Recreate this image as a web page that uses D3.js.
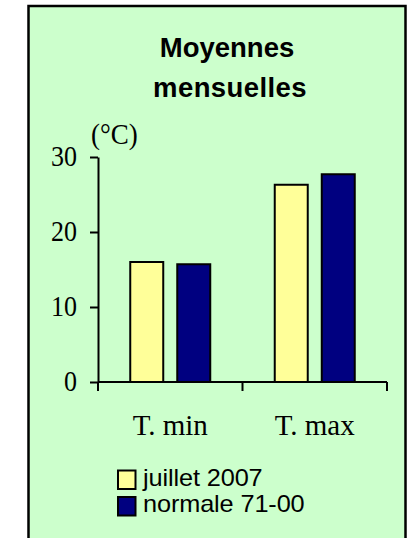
<!DOCTYPE html>
<html><head><meta charset="utf-8">
<script src="https://cdn.jsdelivr.net/npm/d3@7"></script>
<style>html,body{margin:0;padding:0;background:#fff;}svg{display:block;}</style>
</head><body>
<svg id="c" width="417" height="538"></svg>
<script>
const categories = ["T. min", "T. max"];
const seriesNames = ["juillet 2007", "normale 71-00"];
const juillet2007 = [16.0, 26.3];
const normale7100 = [15.7, 27.7];
const yTicks = [0, 10, 20, 30];
const colors = ["#FFFF99", "#000080"];
const seriesValues = [juillet2007, normale7100];

const svg = d3.select("#c");
svg.append("rect").attr("x", 28.5).attr("y", 6).attr("width", 377).attr("height", 545)
  .attr("fill", "#CCFFCC").attr("stroke", "#000").attr("stroke-width", 2.5);

// title
const title = svg.append("text").attr("text-anchor", "middle")
  .attr("font-family", "Liberation Sans, Arial, sans-serif").attr("font-weight", "bold")
  .attr("font-size", 27.5).attr("fill", "#000");
title.append("tspan").attr("x", 227).attr("y", 56.5).text("Moyennes");
title.append("tspan").attr("x", 230).attr("y", 96.5).attr("letter-spacing", 0.4).text("mensuelles");

const y = d3.scaleLinear().domain([0, 30]).range([382, 157]);
const x = d3.scaleBand().domain(categories).range([98, 387]).padding(0);
const xs = d3.scaleBand().domain(d3.range(seriesNames.length)).range([0, x.bandwidth()])
  .paddingInner(0.298).paddingOuter(0.686);

// bars
categories.forEach((c, i) => {
  seriesValues.forEach((vals, s) => {
    svg.append("rect")
      .attr("x", x(c) + xs(s)).attr("y", y(vals[i]))
      .attr("width", xs.bandwidth()).attr("height", y(0) - y(vals[i]))
      .attr("fill", colors[s]).attr("stroke", "#000").attr("stroke-width", 2);
  });
});

// y axis
const yAxis = svg.append("g").attr("transform", "translate(98,0)")
  .call(d3.axisLeft(y).tickValues(yTicks).tickSize(8).tickPadding(13).tickSizeOuter(0));
yAxis.select(".domain").attr("stroke", "#000").attr("stroke-width", 2);
yAxis.selectAll(".tick line").attr("stroke", "#000").attr("stroke-width", 2);
yAxis.selectAll(".tick text")
  .attr("x", null).attr("dy", null)
  .attr("transform", "translate(-21,8) scale(1,1.14)")
  .attr("font-family", "Liberation Serif, Times New Roman, serif")
  .attr("font-size", 26).attr("fill", "#000");

// x axis
const xAxis = svg.append("g").attr("transform", "translate(0,382)");
xAxis.append("line").attr("x1", 98).attr("x2", 387).attr("y1", 0).attr("y2", 0)
  .attr("stroke", "#000").attr("stroke-width", 2);
const bounds = categories.map(c => x(c)).concat([x(categories[categories.length - 1]) + x.bandwidth()]);
xAxis.selectAll("line.t").data(bounds).join("line").attr("class", "t")
  .attr("x1", d => d).attr("x2", d => d).attr("y1", 0).attr("y2", 9)
  .attr("stroke", "#000").attr("stroke-width", 2);
xAxis.selectAll("text").data(categories).join("text")
  .attr("transform", d => `translate(${x(d) + x.bandwidth() / 2},53) scale(1,1.04)`)
  .attr("text-anchor", "middle").attr("font-family", "Liberation Serif, Times New Roman, serif")
  .attr("font-size", 29).attr("fill", "#000").text(d => d);

// unit
svg.append("text").attr("transform", "translate(91,143.5) scale(1,1.08)")
  .attr("font-family", "Liberation Serif, Times New Roman, serif")
  .attr("font-size", 27).attr("fill", "#000").text("(°C)");

// legend
const lg = svg.append("g");
seriesNames.forEach((n, i) => {
  lg.append("rect").attr("x", 118).attr("y", 470.5 + i * 26.5).attr("width", 17.5).attr("height", 18.5)
    .attr("fill", colors[i]).attr("stroke", "#000").attr("stroke-width", 2);
  lg.append("text").attr("transform", `translate(143,${485.5 + i * 26.5}) scale(1.1,1)`)
    .attr("font-family", "Liberation Sans, Arial, sans-serif").attr("font-size", 23)
    .attr("letter-spacing", -0.1).attr("fill", "#000").text(n);
});
</script>
</body></html>
